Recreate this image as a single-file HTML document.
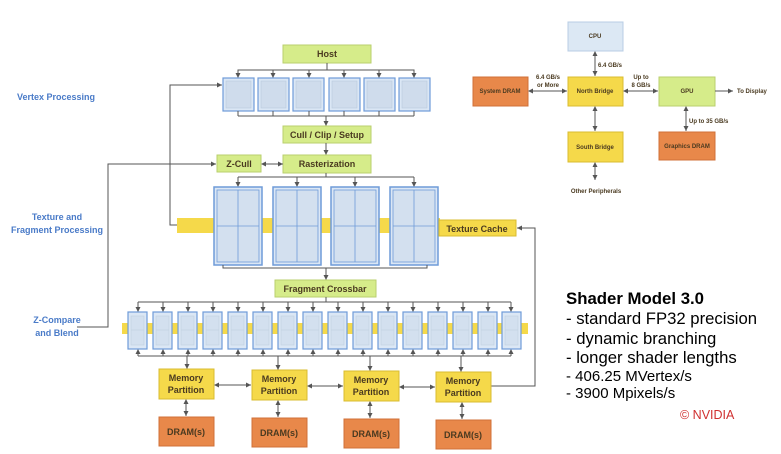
<!DOCTYPE html>
<html><head><meta charset="utf-8"><style>
html,body{margin:0;padding:0;background:#fff;}
svg{display:block;font-family:"Liberation Sans",sans-serif;}
.b{font-weight:bold;fill:#4a3a20;font-size:9px;}
.s{font-weight:bold;fill:#4a3a20;font-size:6px;}
.l{fill:#4a7bc8;font-weight:bold;font-size:9px;}
.ln{stroke:#555;stroke-width:1;fill:none;}
</style></head><body>
<svg width="781" height="454" viewBox="0 0 781 454">
<defs>
<marker id="a" markerWidth="6" markerHeight="6" refX="5" refY="3" orient="auto"><path d="M0,0.5 L5,3 L0,5.5z" fill="#555"/></marker>
<marker id="a2" markerWidth="6" markerHeight="6" refX="1" refY="3" orient="auto"><path d="M5,0.5 L0,3 L5,5.5z" fill="#555"/></marker>
<g id="vu"><rect x="0" y="0" width="31" height="33" fill="#dbe7f5" stroke="#6f9bd8" stroke-width="1.2"/><rect x="3" y="3" width="25" height="27" fill="#cfdcec" stroke="#b8c8dc" stroke-width="0.6"/></g>
<g id="fu"><rect x="0" y="0" width="48" height="78" fill="#dbe7f5" stroke="#6f9bd8" stroke-width="1.5"/><rect x="3" y="3" width="42" height="72" fill="#d3e0ef" stroke="#6f9bd8" stroke-width="0.8"/><line x1="24" y1="3" x2="24" y2="75" stroke="#6f9bd8" stroke-width="0.8"/><line x1="3" y1="39" x2="45" y2="39" stroke="#6f9bd8" stroke-width="0.8"/></g>
<g id="ru"><rect x="0" y="0" width="19" height="37" fill="#dbe7f5" stroke="#6f9bd8" stroke-width="1.2"/><rect x="3" y="4" width="13" height="29" fill="#d3e0ef" stroke="#c0cfe0" stroke-width="0.6"/><line x1="3" y1="18" x2="16" y2="18" stroke="#c0cfe0" stroke-width="0.6"/></g>
</defs>

<text class="l" x="56" y="100" text-anchor="middle">Vertex Processing</text>
<text class="l" x="57" y="220" text-anchor="middle">Texture and</text>
<text class="l" x="57" y="233" text-anchor="middle">Fragment Processing</text>
<text class="l" x="57" y="323" text-anchor="middle">Z-Compare</text>
<text class="l" x="57" y="336" text-anchor="middle">and Blend</text>

<rect x="283" y="45" width="88" height="18" fill="#d6ec8a" stroke="#b9cf6e"/>
<text class="b" x="327" y="57" text-anchor="middle">Host</text>
<path class="ln" d="M327,63 V70 M238,77 V70 H414 V77"/>
<g class="ln" marker-end="url(#a)"><path d="M238,70V78"/><path d="M273,70V78"/><path d="M309,70V78"/><path d="M344,70V78"/><path d="M379,70V78"/><path d="M414,70V78"/></g>
<use href="#vu" x="223" y="78"/><use href="#vu" x="258" y="78"/><use href="#vu" x="293" y="78"/><use href="#vu" x="329" y="78"/><use href="#vu" x="364" y="78"/><use href="#vu" x="399" y="78"/>
<path class="ln" d="M238,111V116 M273,111V116 M309,111V116 M344,111V116 M379,111V116 M414,111V116 M238,116H414"/>
<path class="ln" d="M326,116V126" marker-end="url(#a)"/>
<rect x="283" y="126" width="88" height="17" fill="#d6ec8a" stroke="#b9cf6e"/>
<text class="b" x="327" y="138" text-anchor="middle">Cull / Clip / Setup</text>
<path class="ln" d="M326,143V155" marker-end="url(#a)"/>
<rect x="283" y="155" width="88" height="18" fill="#d6ec8a" stroke="#b9cf6e"/>
<text class="b" x="327" y="167" text-anchor="middle">Rasterization</text>
<rect x="217" y="155" width="44" height="17" fill="#d6ec8a" stroke="#b9cf6e"/>
<text class="b" x="239" y="167" text-anchor="middle">Z-Cull</text>
<path class="ln" d="M262,164H283" marker-start="url(#a2)" marker-end="url(#a)"/>
<path class="ln" d="M77,327H108V164H216" marker-end="url(#a)"/>
<path class="ln" d="M177,225H170V85H222" marker-end="url(#a)"/>
<path class="ln" d="M326,173V177 M238,177H414"/>
<g class="ln" marker-end="url(#a)"><path d="M238,177V187"/><path d="M297,177V187"/><path d="M355,177V187"/><path d="M414,177V187"/></g>
<rect x="177" y="218" width="263" height="15" fill="#f5d94a"/>
<use href="#fu" x="214" y="187"/><use href="#fu" x="273" y="187"/><use href="#fu" x="331" y="187"/><use href="#fu" x="390" y="187"/>
<rect x="439" y="220" width="77" height="16" fill="#f5d94a" stroke="#d9bc30"/>
<text class="b" x="477" y="232" text-anchor="middle">Texture Cache</text>
<path class="ln" d="M490,386H535V228H517" marker-end="url(#a)"/>
<path class="ln" d="M223,265V268H427V265"/>
<path class="ln" d="M326,268V280" marker-end="url(#a)"/>
<rect x="275" y="280" width="101" height="17" fill="#d6ec8a" stroke="#b9cf6e"/>
<text class="b" x="325" y="292" text-anchor="middle">Fragment Crossbar</text>
<path class="ln" d="M326,297V302 M138,302H511"/>
<rect x="122" y="323" width="406" height="11" fill="#f5d94a"/>
<g class="ln">
<path d="M138,302V312" marker-end="url(#a)"/><path d="M163,302V312" marker-end="url(#a)"/><path d="M188,302V312" marker-end="url(#a)"/><path d="M213,302V312" marker-end="url(#a)"/><path d="M238,302V312" marker-end="url(#a)"/><path d="M263,302V312" marker-end="url(#a)"/><path d="M288,302V312" marker-end="url(#a)"/><path d="M313,302V312" marker-end="url(#a)"/><path d="M338,302V312" marker-end="url(#a)"/><path d="M363,302V312" marker-end="url(#a)"/><path d="M388,302V312" marker-end="url(#a)"/><path d="M413,302V312" marker-end="url(#a)"/><path d="M438,302V312" marker-end="url(#a)"/><path d="M463,302V312" marker-end="url(#a)"/><path d="M488,302V312" marker-end="url(#a)"/><path d="M511,302V312" marker-end="url(#a)"/>
<path d="M138,356V349" marker-end="url(#a)"/><path d="M163,356V349" marker-end="url(#a)"/><path d="M188,356V349" marker-end="url(#a)"/><path d="M213,356V349" marker-end="url(#a)"/><path d="M238,356V349" marker-end="url(#a)"/><path d="M263,356V349" marker-end="url(#a)"/><path d="M288,356V349" marker-end="url(#a)"/><path d="M313,356V349" marker-end="url(#a)"/><path d="M338,356V349" marker-end="url(#a)"/><path d="M363,356V349" marker-end="url(#a)"/><path d="M388,356V349" marker-end="url(#a)"/><path d="M413,356V349" marker-end="url(#a)"/><path d="M438,356V349" marker-end="url(#a)"/><path d="M463,356V349" marker-end="url(#a)"/><path d="M488,356V349" marker-end="url(#a)"/><path d="M511,356V349" marker-end="url(#a)"/>
<path d="M138,356H511"/>
</g>
<use href="#ru" x="128" y="312"/><use href="#ru" x="153" y="312"/><use href="#ru" x="178" y="312"/><use href="#ru" x="203" y="312"/><use href="#ru" x="228" y="312"/><use href="#ru" x="253" y="312"/><use href="#ru" x="278" y="312"/><use href="#ru" x="303" y="312"/><use href="#ru" x="328" y="312"/><use href="#ru" x="353" y="312"/><use href="#ru" x="378" y="312"/><use href="#ru" x="403" y="312"/><use href="#ru" x="428" y="312"/><use href="#ru" x="453" y="312"/><use href="#ru" x="478" y="312"/><use href="#ru" x="502" y="312"/>
<g class="ln" marker-end="url(#a)"><path d="M187,356V369"/><path d="M278,356V370"/><path d="M370,356V371"/><path d="M461,356V372"/></g>
<g fill="#f5d94a" stroke="#d9bc30">
<rect x="159" y="369" width="55" height="30"/><rect x="252" y="370" width="55" height="30"/><rect x="344" y="371" width="55" height="30"/><rect x="436" y="372" width="55" height="30"/></g>
<text class="b" x="186" y="381" text-anchor="middle">Memory</text><text class="b" x="186" y="393" text-anchor="middle">Partition</text>
<text class="b" x="279" y="382" text-anchor="middle">Memory</text><text class="b" x="279" y="394" text-anchor="middle">Partition</text>
<text class="b" x="371" y="383" text-anchor="middle">Memory</text><text class="b" x="371" y="395" text-anchor="middle">Partition</text>
<text class="b" x="463" y="384" text-anchor="middle">Memory</text><text class="b" x="463" y="396" text-anchor="middle">Partition</text>
<g class="ln" marker-start="url(#a2)" marker-end="url(#a)">
<path d="M215,385H251"/><path d="M308,386H343"/><path d="M400,387H435"/>
<path d="M186,400V416"/><path d="M278,401V417"/><path d="M370,402V418"/><path d="M462,403V419"/></g>
<g fill="#e8884a" stroke="#d07038">
<rect x="159" y="417" width="55" height="29"/><rect x="252" y="418" width="55" height="29"/><rect x="344" y="419" width="55" height="29"/><rect x="436" y="420" width="55" height="29"/></g>
<text class="b" x="186" y="435" text-anchor="middle">DRAM(s)</text><text class="b" x="279" y="436" text-anchor="middle">DRAM(s)</text><text class="b" x="371" y="437" text-anchor="middle">DRAM(s)</text><text class="b" x="463" y="438" text-anchor="middle">DRAM(s)</text>

<rect x="568" y="22" width="55" height="29" fill="#dce8f4" stroke="#b8cde4"/>
<text class="s" x="595" y="38" text-anchor="middle">CPU</text>
<rect x="568" y="77" width="55" height="29" fill="#f5d94a" stroke="#d9bc30"/>
<text class="s" x="595" y="93" text-anchor="middle">North Bridge</text>
<rect x="568" y="132" width="55" height="30" fill="#f5d94a" stroke="#d9bc30"/>
<text class="s" x="595" y="149" text-anchor="middle">South Bridge</text>
<rect x="473" y="77" width="55" height="29" fill="#e8884a" stroke="#d07038"/>
<text class="s" x="500" y="93" text-anchor="middle">System DRAM</text>
<rect x="659" y="77" width="56" height="29" fill="#d6ec8a" stroke="#b9cf6e"/>
<text class="s" x="687" y="93" text-anchor="middle">GPU</text>
<rect x="659" y="132" width="56" height="28" fill="#e8884a" stroke="#d07038"/>
<text class="s" x="687" y="148" text-anchor="middle">Graphics DRAM</text>
<g class="ln" marker-start="url(#a2)" marker-end="url(#a)">
<path d="M595,52V76"/><path d="M529,91H567"/><path d="M624,91H658"/><path d="M595,107V131"/><path d="M686,107V131"/><path d="M595,163V180"/></g>
<path class="ln" d="M715,91H733" marker-end="url(#a)"/>
<text class="s" x="598" y="67">6.4 GB/s</text>
<text class="s" x="548" y="79" text-anchor="middle">6.4 GB/s</text><text class="s" x="548" y="87" text-anchor="middle">or More</text>
<text class="s" x="641" y="79" text-anchor="middle">Up to</text><text class="s" x="641" y="87" text-anchor="middle">8 GB/s</text>
<text class="s" x="737" y="93">To Display</text>
<text class="s" x="689" y="123">Up to 35 GB/s</text>
<text class="s" x="596" y="193" text-anchor="middle">Other Peripherals</text>

<text x="566" y="304" font-size="16.8" font-weight="bold" fill="#000">Shader Model 3.0</text>
<text x="566" y="324" font-size="16.7" fill="#000">-  standard FP32 precision</text>
<text x="566" y="344" font-size="16.7" fill="#000">-  dynamic branching</text>
<text x="566" y="363" font-size="16.7" fill="#000">-  longer shader lengths</text>
<text x="566" y="381" font-size="15" fill="#000">-  406.25 MVertex/s</text>
<text x="566" y="398" font-size="15" fill="#000">-  3900 Mpixels/s</text>
<text x="680" y="419" font-size="12.5" fill="#d03030">© NVIDIA</text>
</svg>
</body></html>
